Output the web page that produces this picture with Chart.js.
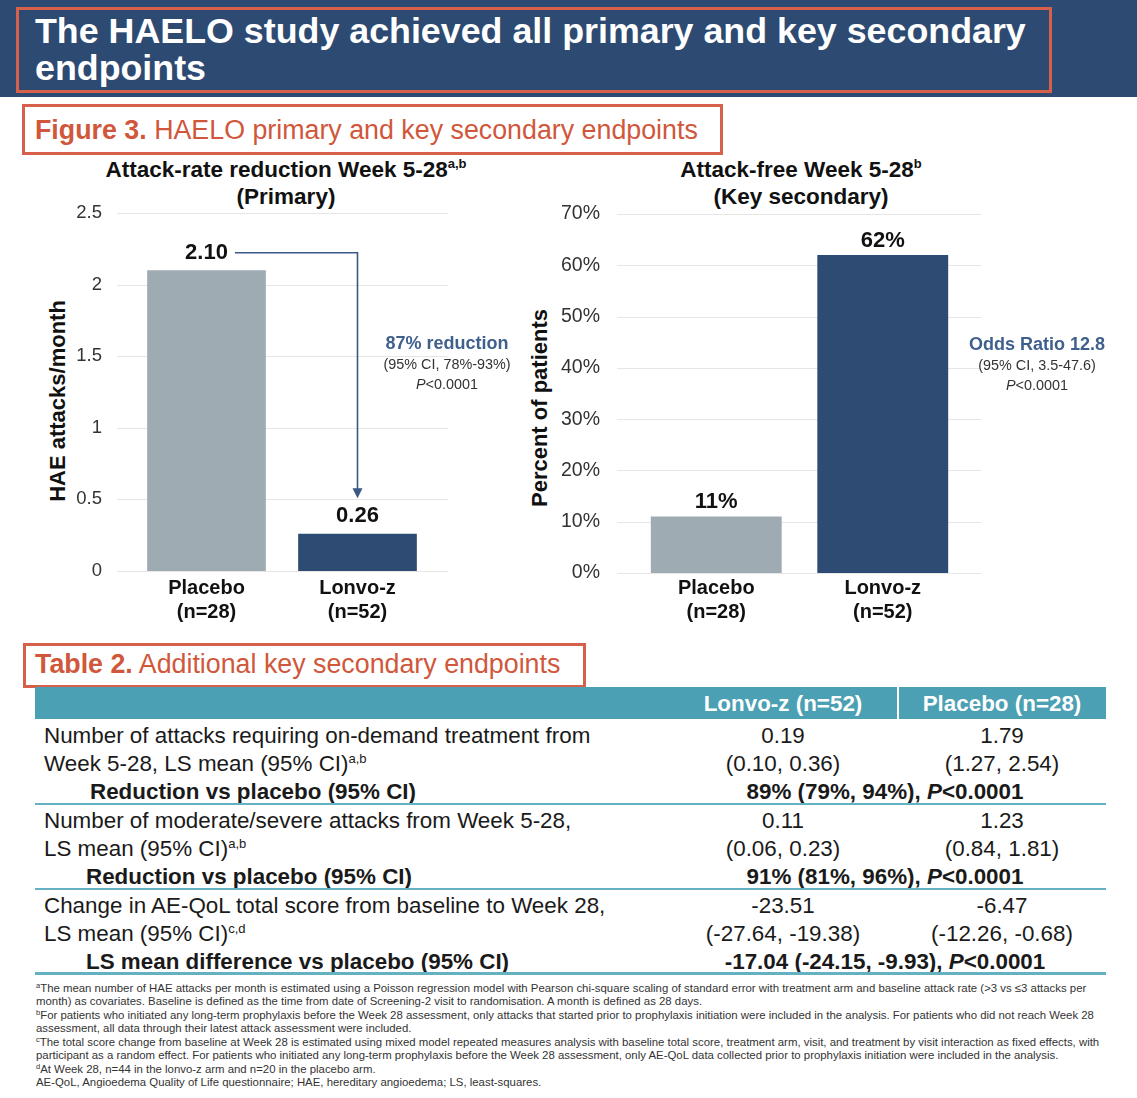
<!DOCTYPE html>
<html lang="en">
<head>
<meta charset="UTF-8">
<title>HAELO endpoints</title>
<script src="https://cdn.jsdelivr.net/npm/chart.js"></script>
<style>
  body { margin: 0; width: 1137px; height: 1098px; background: #fff; position: relative; overflow: hidden;
         font-family: "Liberation Sans", Arial, sans-serif; color: #111; }
  .abs { position: absolute; white-space: nowrap; }
  .navy { left: 0; top: 0; width: 1137px; height: 97px; background: #2d4a72; }
  .redbox { border: 3px solid #d6604a; box-sizing: border-box; }
  .head { color: #fff; font-weight: bold; font-size: 35.8px; line-height: 37px; left: 35px; top: 12.6px; }
  .fig { color: #d0573b; font-size: 26.8px; line-height: 32px; }
  .ctitle { font-weight: bold; font-size: 22.5px; line-height: 27px; text-align: center; color: #111; }
  .ctitle sup { font-size: 13px; vertical-align: 9px; line-height: 0; }
  .ytitle { font-weight: bold; font-size: 22px; line-height: 26px; transform: translate(-50%, -50%) rotate(-90deg); color: #111; }
  .note { text-align: center; font-size: 14.4px; line-height: 20px; color: #333; transform: translateX(-50%); }
  .note b { color: #3f5f8d; font-size: 18px; }
  .cell { font-size: 22.4px; line-height: 28px; color: #1a1a1a; }
  .ctr { transform: translateX(-50%); }
  .cell sup { font-size: 13px; vertical-align: 8px; line-height: 0; }
  .sep { left: 35px; width: 1071px; background: #64b1c3; }
  .foot { left: 36px; font-size: 11.4px; line-height: 13.43px; color: #333; top: 982px; }
  .foot sup { font-size: 7.5px; vertical-align: 4px; line-height: 0; }
</style>
</head>
<body>
<div class="abs navy"></div>
<div class="abs redbox" style="left:16px;top:7px;width:1036px;height:86px;"></div>
<div class="abs head">The HAELO study achieved all primary and key secondary<br>endpoints</div>

<div class="abs redbox" style="left:22px;top:104px;width:701px;height:51px;"></div>
<div class="abs fig" style="left:35px;top:114px;"><b>Figure 3.</b> HAELO primary and key secondary endpoints</div>

<div class="abs ctitle" style="left:46px;top:156px;width:480px;">Attack-rate reduction Week 5-28<sup>a,b</sup><br>(Primary)</div>
<div class="abs ctitle" style="left:561px;top:156px;width:480px;">Attack-free Week 5-28<sup>b</sup><br>(Key secondary)</div>

<div class="abs ytitle" style="left:58px;top:401px;">HAE attacks/month</div>
<div class="abs ytitle" style="left:540px;top:408px;">Percent of patients</div>

<div class="abs" style="left:40px;top:200px;width:480px;height:430px;"><canvas id="rateChart"></canvas></div>
<div class="abs" style="left:520px;top:200px;width:617px;height:430px;"><canvas id="freeChart"></canvas></div>

<div class="abs note" style="left:447px;top:333px;"><b>87% reduction</b><br>(95% CI, 78%-93%)<br><i>P</i>&lt;0.0001</div>
<div class="abs note" style="left:1037px;top:334px;"><b>Odds Ratio 12.8</b><br>(95% CI, 3.5-47.6)<br><i>P</i>&lt;0.0001</div>

<div class="abs redbox" style="left:23px;top:643px;width:563px;height:45px;"></div>
<div class="abs fig" style="left:35px;top:648px;"><b>Table 2.</b> Additional key secondary endpoints</div>

<div class="abs" style="left:35px;top:687px;width:1071px;height:32px;background:#4ba0b4;"></div>
<div class="abs" style="left:897px;top:687px;width:2px;height:32px;background:#fff;"></div>
<div class="abs cell ctr" style="left:783px;top:690px;color:#fff;font-weight:bold;">Lonvo-z (n=52)</div>
<div class="abs cell ctr" style="left:1002px;top:690px;color:#fff;font-weight:bold;">Placebo (n=28)</div>

<div class="abs cell" style="left:44px;top:722px;">Number of attacks requiring on-demand treatment from</div>
<div class="abs cell" style="left:44px;top:750px;">Week 5-28, LS mean (95% CI)<sup>a,b</sup></div>
<div class="abs cell" style="left:90px;top:778px;font-weight:bold;">Reduction vs placebo (95% CI)</div>
<div class="abs cell ctr" style="left:783px;top:722px;">0.19</div>
<div class="abs cell ctr" style="left:783px;top:750px;">(0.10, 0.36)</div>
<div class="abs cell ctr" style="left:1002px;top:722px;">1.79</div>
<div class="abs cell ctr" style="left:1002px;top:750px;">(1.27, 2.54)</div>
<div class="abs cell ctr" style="left:885px;top:778px;font-weight:bold;">89% (79%, 94%), <i>P</i>&lt;0.0001</div>
<div class="abs sep" style="top:803px;height:2px;"></div>

<div class="abs cell" style="left:44px;top:807px;">Number of moderate/severe attacks from Week 5-28,</div>
<div class="abs cell" style="left:44px;top:835px;">LS mean (95% CI)<sup>a,b</sup></div>
<div class="abs cell" style="left:86px;top:863px;font-weight:bold;">Reduction vs placebo (95% CI)</div>
<div class="abs cell ctr" style="left:783px;top:807px;">0.11</div>
<div class="abs cell ctr" style="left:783px;top:835px;">(0.06, 0.23)</div>
<div class="abs cell ctr" style="left:1002px;top:807px;">1.23</div>
<div class="abs cell ctr" style="left:1002px;top:835px;">(0.84, 1.81)</div>
<div class="abs cell ctr" style="left:885px;top:863px;font-weight:bold;">91% (81%, 96%), <i>P</i>&lt;0.0001</div>
<div class="abs sep" style="top:888px;height:2px;"></div>

<div class="abs cell" style="left:44px;top:892px;">Change in AE-QoL total score from baseline to Week 28,</div>
<div class="abs cell" style="left:44px;top:920px;">LS mean (95% CI)<sup>c,d</sup></div>
<div class="abs cell" style="left:86px;top:948px;font-weight:bold;">LS mean difference vs placebo (95% CI)</div>
<div class="abs cell ctr" style="left:783px;top:892px;">-23.51</div>
<div class="abs cell ctr" style="left:783px;top:920px;">(-27.64, -19.38)</div>
<div class="abs cell ctr" style="left:1002px;top:892px;">-6.47</div>
<div class="abs cell ctr" style="left:1002px;top:920px;">(-12.26, -0.68)</div>
<div class="abs cell ctr" style="left:885px;top:948px;font-weight:bold;">-17.04 (-24.15, -9.93), <i>P</i>&lt;0.0001</div>
<div class="abs sep" style="top:972px;height:3px;"></div>

<div class="abs foot">
<sup>a</sup>The mean number of HAE attacks per month is estimated using a Poisson regression model with Pearson chi-square scaling of standard error with treatment arm and baseline attack rate (&gt;3 vs ≤3 attacks per<br>
month) as covariates. Baseline is defined as the time from date of Screening-2 visit to randomisation. A month is defined as 28 days.<br>
<sup>b</sup>For patients who initiated any long-term prophylaxis before the Week 28 assessment, only attacks that started prior to prophylaxis initiation were included in the analysis. For patients who did not reach Week 28<br>
assessment, all data through their latest attack assessment were included.<br>
<sup>c</sup>The total score change from baseline at Week 28 is estimated using mixed model repeated measures analysis with baseline total score, treatment arm, visit, and treatment by visit interaction as fixed effects, with<br>
participant as a random effect. For patients who initiated any long-term prophylaxis before the Week 28 assessment, only AE-QoL data collected prior to prophylaxis initiation were included in the analysis.<br>
<sup>d</sup>At Week 28, n=44 in the lonvo-z arm and n=20 in the placebo arm.<br>
AE-QoL, Angioedema Quality of Life questionnaire; HAE, hereditary angioedema; LS, least-squares.
</div>

<script>
    // chart values
    const categories = [['Placebo', '(n=28)'], ['Lonvo-z', '(n=52)']];
    const attackRate = [2.10, 0.26];
    const attackFree = [11, 62];
    const rateTicks = ['0', '0.5', '1', '1.5', '2', '2.5'];
    const freeTicks = ['0%', '10%', '20%', '30%', '40%', '50%', '60%', '70%'];

    const grey = '#9fabb3';
    const navy = '#2d4b73';
    const font = '"Liberation Sans", Arial, sans-serif';

    // light gridlines that run a bit past the plot on both sides
    const gridPlugin = {
        id: 'wideGrid',
        beforeDatasetsDraw(chart, args, opts) {
            const {ctx, chartArea} = chart;
            const y = chart.scales.y;
            ctx.save();
            ctx.strokeStyle = '#e6e6e6';
            ctx.lineWidth = 1;
            y.ticks.forEach(t => {
                const py = Math.round(y.getPixelForValue(t.value)) + 0.5;
                ctx.beginPath();
                ctx.moveTo(chartArea.left - opts.left, py);
                ctx.lineTo(chartArea.right + opts.right, py);
                ctx.stroke();
            });
            ctx.restore();
        }
    };

    // bold value labels above the bars
    const valuePlugin = {
        id: 'barValues',
        afterDatasetsDraw(chart, args, opts) {
            const {ctx} = chart;
            const meta = chart.getDatasetMeta(0);
            const vals = chart.data.datasets[0].data;
            ctx.save();
            ctx.font = 'bold 22px ' + font;
            ctx.fillStyle = '#111';
            ctx.textAlign = 'center';
            ctx.textBaseline = 'middle';
            meta.data.forEach((bar, i) => {
                ctx.fillText(opts.format(vals[i]), bar.x, bar.y - opts.gap);
            });
            ctx.restore();
        }
    };

    // elbow arrow from the placebo value down to the lonvo-z value
    const arrowPlugin = {
        id: 'elbow',
        afterDatasetsDraw(chart, args, opts) {
            if (!opts.show) return;
            const {ctx} = chart;
            const meta = chart.getDatasetMeta(0);
            const a = meta.data[0], b = meta.data[1];
            ctx.save();
            ctx.font = 'bold 22px ' + font;
            const w = ctx.measureText('2.10').width;
            const y0 = a.y - 17.5;
            const x0 = a.x + w / 2 + 7;
            const tip = b.y - 17.5 - 18;
            ctx.strokeStyle = '#3a5a85';
            ctx.fillStyle = '#3a5a85';
            ctx.lineWidth = 1.6;
            ctx.beginPath();
            ctx.moveTo(x0, y0);
            ctx.lineTo(b.x, y0);
            ctx.lineTo(b.x, tip - 9);
            ctx.stroke();
            ctx.beginPath();
            ctx.moveTo(b.x - 5, tip - 10);
            ctx.lineTo(b.x + 5, tip - 10);
            ctx.lineTo(b.x, tip);
            ctx.closePath();
            ctx.fill();
            ctx.restore();
        }
    };

    function makeChart(id, values, tickLabels, max, step, cfg) {
        new Chart(document.getElementById(id), {
            type: 'bar',
            data: {
                labels: categories,
                datasets: [{
                    data: values,
                    backgroundColor: [grey, navy],
                    categoryPercentage: 1,
                    barPercentage: 0.786,
                    borderWidth: 0
                }]
            },
            options: {
                responsive: true,
                maintainAspectRatio: false,
                animation: false,
                layout: { padding: { top: cfg.top, right: cfg.right, left: 0, bottom: 0 } },
                plugins: {
                    legend: { display: false },
                    tooltip: { enabled: false },
                    wideGrid: { left: cfg.gl, right: cfg.gr },
                    barValues: { gap: cfg.gap, format: cfg.format },
                    elbow: { show: cfg.arrow }
                },
                scales: {
                    x: {
                        grid: { display: false, drawTicks: false },
                        border: { display: false },
                        ticks: { color: '#111', padding: cfg.xpad, font: { family: font, size: 20, weight: 'bold', lineHeight: 1.2 } },
                        afterFit: s => { s.height = cfg.xh; }
                    },
                    y: {
                        min: 0,
                        max: max,
                        grid: { display: false, drawTicks: false },
                        border: { display: false },
                        ticks: {
                            stepSize: step,
                            color: '#333',
                            padding: cfg.ypad,
                            font: { family: font, size: cfg.tsize },
                            callback: (v, i) => tickLabels[i]
                        },
                        afterFit: s => {
                            s.width = cfg.yw;
                            s.paddingTop = 0;
                            s.paddingBottom = 0;
                        }
                    }
                }
            },
            plugins: [gridPlugin, valuePlugin, arrowPlugin]
        });
    }

    makeChart('rateChart', attackRate, rateTicks, 2.5, 0.5, {
        top: 13, right: 87, yw: 91, xh: 59, ypad: 29, xpad: 5, gl: 14, gr: 15,
        gap: 17.5, tsize: 18.5, arrow: true, format: v => v.toFixed(2)
    });
    makeChart('freeChart', attackFree, freeTicks, 70, 10, {
        top: 14, right: 171, yw: 113, xh: 57, ypad: 33, xpad: 3, gl: 16, gr: 15,
        gap: 14.5, tsize: 19.5, arrow: false, format: v => v + '%'
    });
</script>
</body>
</html>
